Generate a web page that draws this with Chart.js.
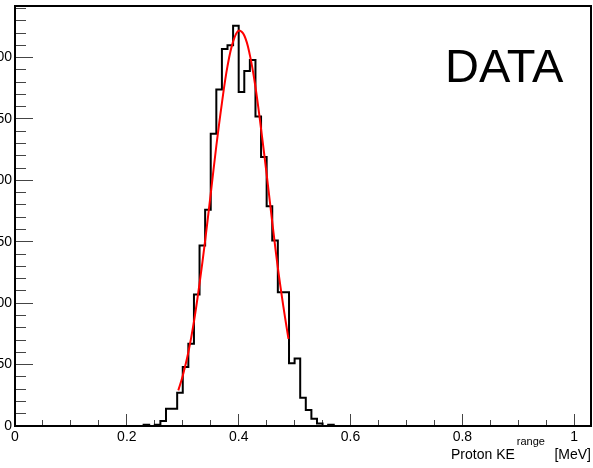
<!DOCTYPE html>
<html>
<head>
<meta charset="utf-8">
<title>Proton KE range - DATA</title>
<script src="https://cdn.jsdelivr.net/npm/chart.js@4.4.1/dist/chart.umd.min.js"></script>
<style>
  html, body { margin: 0; padding: 0; background: #fff; }
  #plot { display: block; }
</style>
</head>
<body>
<canvas id="plot" width="593" height="468"></canvas>
<script>
// Histogram: bin width 0.01 MeV, bins from 0 to 1.03
const binWidth = 0.01;
const counts = [
  0, 0, 0, 0, 0, 0, 0, 0, 0, 0,
  0, 0, 0, 0, 0, 0, 0, 0, 0, 0,
  0, 0, 0, 1, 0, 1, 4, 14, 14, 27,
  48, 67, 107, 147, 176, 238, 274, 307, 310, 326,
  272, 289, 298, 252, 219, 179, 151, 109, 109, 51,
  55, 23, 13, 6, 2, 0, 1, 0, 0, 0,
  0, 0, 0, 0, 0, 0, 0, 0, 0, 0,
  0, 0, 0, 0, 0, 0, 0, 0, 0, 0,
  0, 0, 0, 0, 0, 0, 0, 0, 0, 0,
  0, 0, 0, 0, 0, 0, 0, 0, 0, 0,
  0, 0, 0,
];

// Gaussian fit curve
const fitX = [0.292, 0.30, 0.31, 0.32, 0.33, 0.34, 0.35, 0.36, 0.37, 0.38, 0.39,
  0.40, 0.41, 0.42, 0.43, 0.44, 0.45, 0.46, 0.47, 0.48, 0.489];
const fitY = [29, 41, 60, 85, 116, 151, 189, 228, 263, 293, 313,
  322, 318, 302, 276, 242, 205, 166, 129, 97, 71];

// Axis ranges and labelled ticks
const xRange = [0, 1.03];
const yRange = [0, 342];
const xMajorTicks = [0, 0.2, 0.4, 0.6, 0.8, 1];
const yMajorTicks = [0, 50, 100, 150, 200, 250, 300];

const FONT = '"Liberation Sans", Arial, Helvetica, sans-serif';

function histPoints() {
  const pts = counts.map((c, i) => ({ x: i * binWidth, y: c }));
  pts.push({ x: counts.length * binWidth, y: counts[counts.length - 1] });
  return pts;
}

function fitPoints() {
  return fitX.map((x, i) => ({ x: x, y: fitY[i] }));
}

// fixed axis sizes, no extra layout padding from labels
function fixSize(w, h) {
  return (scale) => {
    if (w !== null) scale.width = w;
    if (h !== null) scale.height = h;
    scale.paddingTop = 0;
    scale.paddingBottom = 0;
    scale.paddingLeft = 0;
    scale.paddingRight = 0;
  };
}

function fmt(v) {
  return String(Number(v.toFixed(2)));
}

// ROOT style frame round the pad
const framePlugin = {
  id: 'frame',
  afterDatasetsDraw(chart) {
    const a = chart.chartArea;
    const ctx = chart.ctx;
    ctx.save();
    ctx.strokeStyle = '#000';
    ctx.lineWidth = 2;
    ctx.strokeRect(a.left, a.top, a.right - a.left, a.bottom - a.top);
    ctx.restore();
  },
};

// "DATA" label and the x axis title with superscript
const textPlugin = {
  id: 'texts',
  afterDraw(chart) {
    const ctx = chart.ctx;
    const a = chart.chartArea;
    ctx.save();
    ctx.fillStyle = '#000';
    ctx.textBaseline = 'alphabetic';

    ctx.font = '47px ' + FONT;
    ctx.textAlign = 'left';
    ctx.fillText('DATA', 445, 82);

    const right = a.right;
    ctx.font = '14px ' + FONT;
    ctx.textAlign = 'right';
    ctx.fillText('[MeV]', right, 459);
    ctx.textAlign = 'left';
    ctx.fillText('Proton KE', 451, 459);
    const keW = ctx.measureText('Proton KE').width;
    ctx.font = '11px ' + FONT;
    ctx.fillText('range', 451 + keW + 2, 445);
    ctx.restore();
  },
};

function createChart() {
  const ctx = document.getElementById('plot').getContext('2d');
  new Chart(ctx, {
    type: 'line',
    data: {
      datasets: [
        {
          label: 'fit',
          data: fitPoints(),
          borderColor: '#ff0000',
          borderWidth: 2,
          pointRadius: 0,
          tension: 0.4,
          fill: false,
        },
        {
          label: 'hist',
          data: histPoints(),
          borderColor: '#000000',
          borderWidth: 2,
          pointRadius: 0,
          stepped: true,
          fill: false,
        },
      ],
    },
    options: {
      responsive: false,
      animation: false,
      events: [],
      layout: { padding: { left: 0, right: 2, top: 6, bottom: 0 } },
      plugins: {
        legend: { display: false },
        tooltip: { enabled: false },
        title: { display: false },
      },
      scales: {
        x: {
          type: 'linear',
          position: 'bottom',
          weight: 1,
          min: xRange[0],
          max: xRange[1],
          afterBuildTicks: (s) => { s.ticks = xMajorTicks.map((v) => ({ value: v })); },
          afterFit: fixSize(null, 42),
          grid: { drawOnChartArea: false, tickLength: -12, tickColor: '#444', tickWidth: 1 },
          border: { display: false },
          ticks: {
            autoSkip: false,
            maxRotation: 0,
            padding: 15,
            color: '#000',
            font: { family: FONT, size: 14 },
            callback: (v) => fmt(v),
          },
        },
        xMinor: {
          type: 'linear',
          position: 'bottom',
          weight: 0,
          min: xRange[0],
          max: xRange[1],
          afterFit: fixSize(null, 0),
          grid: { drawOnChartArea: false, tickLength: -6, tickColor: '#444', tickWidth: 1 },
          border: { display: false },
          ticks: { display: false, stepSize: 0.05, includeBounds: false, autoSkip: false },
        },
        y: {
          type: 'linear',
          position: 'left',
          weight: 1,
          min: yRange[0],
          max: yRange[1],
          afterBuildTicks: (s) => { s.ticks = yMajorTicks.map((v) => ({ value: v })); },
          afterFit: fixSize(15, null),
          grid: { drawOnChartArea: false, tickLength: -18, tickColor: '#444', tickWidth: 1 },
          border: { display: false },
          ticks: {
            autoSkip: false,
            padding: 21,
            color: '#000',
            font: { family: FONT, size: 14 },
            callback: (v) => fmt(v),
          },
        },
        yMinor: {
          type: 'linear',
          position: 'left',
          weight: 0,
          min: yRange[0],
          max: yRange[1],
          afterFit: fixSize(0, null),
          grid: { drawOnChartArea: false, tickLength: -11, tickColor: '#444', tickWidth: 1 },
          border: { display: false },
          ticks: { display: false, stepSize: 10, includeBounds: false, autoSkip: false },
        },
      },
    },
    plugins: [framePlugin, textPlugin],
  });
}

document.addEventListener('DOMContentLoaded', createChart);
</script>
</body>
</html>
